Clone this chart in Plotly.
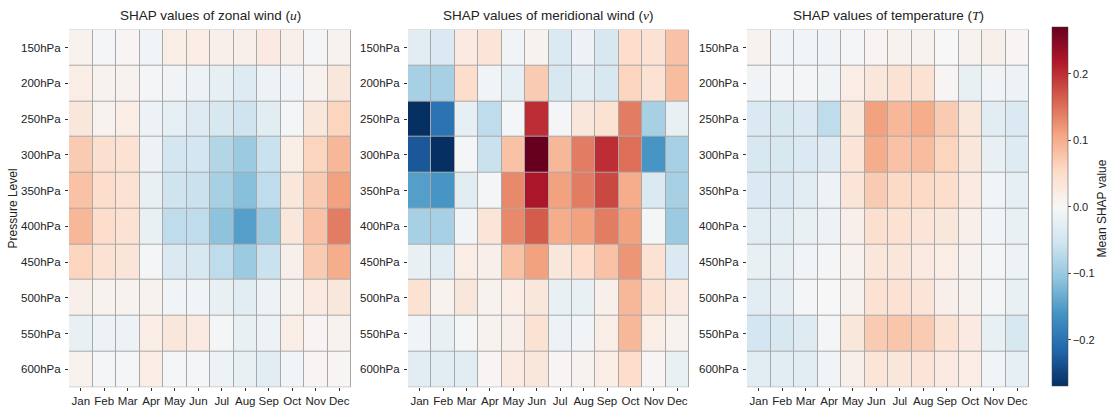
import plotly.graph_objects as go

months = ["Jan", "Feb", "Mar", "Apr", "May", "Jun", "Jul", "Aug", "Sep", "Oct", "Nov", "Dec"]
levels = ["150hPa", "200hPa", "250hPa", "300hPa", "350hPa", "400hPa", "450hPa", "500hPa", "550hPa", "600hPa"]

shap_u = [
    [0.010, -0.005, 0.005, -0.010, 0.020, 0.020, 0.015, 0.015, 0.025, 0.015, -0.005, 0.010],
    [0.020, 0.010, 0.010, -0.005, -0.010, -0.015, -0.025, -0.035, -0.015, -0.010, 0.010, 0.030],
    [0.030, 0.010, 0.020, -0.015, -0.025, -0.035, -0.045, -0.055, -0.030, -0.005, 0.030, 0.060],
    [0.070, 0.045, 0.040, -0.015, -0.050, -0.050, -0.080, -0.100, -0.060, 0.020, 0.060, 0.090],
    [0.080, 0.050, 0.040, -0.020, -0.055, -0.060, -0.090, -0.115, -0.070, 0.030, 0.070, 0.110],
    [0.090, 0.050, 0.040, -0.020, -0.070, -0.070, -0.110, -0.150, -0.100, 0.030, 0.080, 0.140],
    [0.060, 0.040, 0.035, -0.005, -0.040, -0.045, -0.070, -0.100, -0.060, 0.015, 0.070, 0.100],
    [0.015, 0.010, 0.010, 0.010, -0.010, -0.010, -0.020, -0.030, -0.015, 0.010, 0.025, 0.030],
    [-0.020, -0.015, -0.015, 0.020, 0.030, 0.025, -0.005, -0.020, -0.015, 0.020, 0.005, 0.010],
    [0.010, -0.005, -0.005, 0.020, -0.005, -0.005, -0.015, -0.020, -0.030, -0.010, 0.005, 0.005],
]

shap_v = [
    [-0.030, -0.040, 0.025, 0.035, -0.010, 0.010, -0.040, -0.015, -0.045, 0.050, 0.040, 0.080],
    [-0.090, -0.090, 0.050, -0.010, -0.025, 0.070, -0.045, -0.030, -0.045, 0.060, 0.040, 0.085],
    [-0.270, -0.200, -0.025, -0.070, -0.005, 0.200, -0.005, 0.030, 0.040, 0.140, -0.090, -0.020],
    [-0.230, -0.270, -0.005, -0.060, 0.080, 0.270, 0.090, 0.140, 0.200, 0.150, -0.160, -0.090],
    [-0.150, -0.160, -0.030, -0.005, 0.130, 0.220, 0.110, 0.140, 0.180, 0.100, -0.040, -0.090],
    [-0.090, -0.090, -0.010, 0.035, 0.130, 0.165, 0.100, 0.110, 0.140, 0.110, -0.005, -0.100],
    [-0.020, -0.030, 0.020, 0.015, 0.080, 0.110, 0.030, 0.050, 0.080, 0.120, 0.040, -0.040],
    [0.040, 0.010, 0.030, 0.010, 0.020, 0.030, -0.020, -0.020, 0.015, 0.090, 0.040, 0.025],
    [-0.010, -0.020, -0.005, 0.010, 0.015, 0.040, -0.015, -0.010, 0.020, 0.090, 0.020, 0.010],
    [-0.030, -0.030, -0.030, 0.005, 0.025, 0.030, 0.005, 0.010, 0.020, 0.050, 0.005, -0.020],
]

shap_t = [
    [0.010, -0.010, -0.010, -0.010, -0.005, 0.005, 0.010, 0.010, 0.000, 0.010, 0.015, 0.005],
    [-0.010, -0.005, -0.005, -0.010, 0.020, 0.030, 0.040, 0.040, 0.005, -0.020, -0.010, -0.015],
    [-0.040, -0.045, -0.040, -0.070, 0.030, 0.110, 0.090, 0.100, 0.070, 0.030, -0.030, -0.040],
    [-0.045, -0.045, -0.040, -0.035, 0.035, 0.100, 0.080, 0.085, 0.060, 0.030, -0.020, -0.035],
    [-0.040, -0.040, -0.030, -0.015, 0.035, 0.070, 0.055, 0.055, 0.050, 0.025, -0.010, -0.025],
    [-0.030, -0.030, -0.020, -0.015, 0.015, 0.045, 0.040, 0.035, 0.030, 0.015, -0.010, -0.020],
    [-0.020, -0.020, -0.010, -0.005, 0.010, 0.030, 0.030, 0.025, 0.020, 0.010, -0.005, -0.015],
    [-0.030, -0.025, -0.005, 0.000, 0.010, 0.040, 0.040, 0.035, 0.015, 0.010, -0.005, -0.020],
    [-0.050, -0.045, -0.035, -0.005, 0.030, 0.070, 0.075, 0.070, 0.040, 0.025, -0.020, -0.045],
    [-0.030, -0.030, -0.030, -0.010, 0.015, 0.035, 0.030, 0.035, 0.025, 0.020, -0.010, -0.025],
]

panel_titles = [
    "SHAP values of zonal wind (<i><span style='font-family:Liberation Serif'>u</span></i>)",
    "SHAP values of meridional wind (<i><span style='font-family:Liberation Serif'>v</span></i>)",
    "SHAP values of temperature (<i><span style='font-family:Liberation Serif'>T</span></i>)",
]
colorbar_ticks = [-0.2, -0.1, 0.0, 0.1, 0.2]

vmax = 0.27
rdbu_r = [
    "rgb(5,48,97)", "rgb(33,102,172)", "rgb(67,147,195)", "rgb(146,197,222)",
    "rgb(209,229,240)", "rgb(247,247,247)", "rgb(253,219,199)", "rgb(244,165,130)",
    "rgb(214,96,77)", "rgb(178,24,43)", "rgb(103,0,31)",
]
cscale = [[i / 10, c] for i, c in enumerate(rdbu_r)]

W, H = 1108, 407
x_px = [(69, 351), (408, 689), (747, 1029)]
y_top, y_bot = 30, 392
FAM = "Liberation Sans, Arial, sans-serif"

tick_font = dict(family=FAM, size=11.5, color="#222")
fig = go.Figure()
for i, data in enumerate([shap_u, shap_v, shap_t]):
    xa = "x" if i == 0 else f"x{i+1}"
    ya = "y" if i == 0 else f"y{i+1}"
    tr = go.Heatmap(
        z=data, x=months, y=levels, xaxis=xa, yaxis=ya,
        colorscale=cscale, zmin=-vmax, zmax=vmax, xgap=1, ygap=1,
        showscale=(i == 0),
    )
    if i == 0:
        tr.colorbar = dict(
            x=1052 / W, xanchor="left", xpad=0, ypad=0, thickness=16,
            y=1 - (28 + 391) / 2 / H, yanchor="middle", len=363 / H, lenmode="fraction",
            tickvals=colorbar_ticks, tickformat=".1f", ticks="outside", ticklen=3,
            tickfont=dict(family=FAM, size=11, color="#222"), outlinewidth=0.5, outlinecolor="#444",
        )
    fig.add_trace(tr)
    xd = [x_px[i][0] / W, x_px[i][1] / W]
    yd = [1 - y_bot / H, 1 - y_top / H]
    axx = dict(domain=xd, anchor=ya, tickfont=tick_font, ticks="outside", ticklen=3,
               tickcolor="#333", showgrid=False, zeroline=False, showline=False, tickangle=0)
    axy = dict(domain=yd, anchor=xa, tickfont=tick_font, ticks="outside", ticklen=3,
               tickcolor="#333", showgrid=False, zeroline=False, showline=False, autorange="reversed",
               ticklabelstandoff=2)
    fig.layout["xaxis" if i == 0 else f"xaxis{i+1}"] = axx
    fig.layout["yaxis" if i == 0 else f"yaxis{i+1}"] = axy
    fig.add_annotation(
        text=panel_titles[i], x=(xd[0] + xd[1]) / 2, y=1 - 16 / H, xref="paper", yref="paper",
        showarrow=False, font=dict(family=FAM, size=13.5, color="#222"),
        xanchor="center", yanchor="middle",
    )

# y-axis title and colorbar title (rotated, reading bottom-to-top)
fig.add_annotation(text="Pressure Level", x=13 / W, y=1 - 211 / H, xref="paper", yref="paper",
                   showarrow=False, textangle=-90, font=dict(family=FAM, size=12, color="#222"),
                   xanchor="center", yanchor="middle")
fig.add_annotation(text="Mean SHAP value", x=1102 / W, y=1 - 211 / H, xref="paper", yref="paper",
                   showarrow=False, textangle=-90, font=dict(family=FAM, size=12, color="#222"),
                   xanchor="center", yanchor="middle", borderpad=0)

fig.update_layout(
    width=W, height=H, margin=dict(l=0, r=0, t=0, b=0),
    paper_bgcolor="white", plot_bgcolor="#a8a8a8", font=tick_font,
)
fig.write_html("out.html")
